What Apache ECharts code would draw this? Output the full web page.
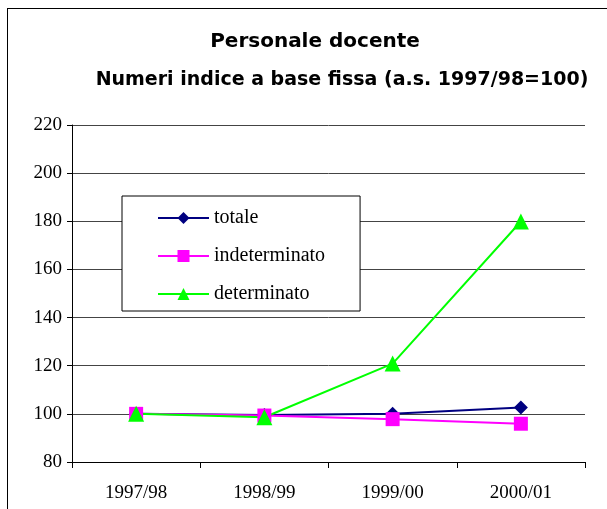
<!DOCTYPE html>
<html>
<head>
<meta charset="utf-8">
<script src="https://cdn.jsdelivr.net/npm/echarts@6/dist/echarts.min.js"></script>
<style>
  html, body { margin: 0; padding: 0; background: #fff; }
  #frame { position: absolute; left: 7px; top: 8px; width: 620px; height: 530px; border: 1px solid #000; box-sizing: border-box; }
  #chart { position: absolute; left: 0; top: 0; width: 607px; height: 509px; }
</style>
</head>
<body>
<div id="frame"></div>
<div id="chart"></div>
<script>
// anni scolastici
var categories = ['1997/98', '1998/99', '1999/00', '2000/01'];
// numeri indice (1997/98 = 100)
var totale = [100, 99.5, 100, 102.6];
var indeterminato = [100, 99.3, 97.8, 95.9];
var determinato = [100, 98.6, 120.9, 179.9];

var chart = echarts.init(document.getElementById('chart'));
var option = {
  animation: false,
  title: [
    {
      text: 'Personale docente',
      left: 310, top: 27, textAlign: 'center',
      textStyle: { fontFamily: 'DejaVu Sans', fontWeight: 'bold', fontSize: 20, color: '#000' }
    },
    {
      text: 'Numeri indice a base fissa (a.s. 1997/98=100)',
      left: 337, top: 66, textAlign: 'center',
      textStyle: { fontFamily: 'DejaVu Sans', fontWeight: 'bold', fontSize: 19, color: '#000' }
    }
  ],
  legend: {
    orient: 'vertical',
    left: 122, top: 196,
    padding: [12, 35, 7, 35],
    itemWidth: 51, itemHeight: 15, itemGap: 18,
    backgroundColor: '#fff',
    borderColor: '#000', borderWidth: 1,
    textStyle: { fontFamily: 'Liberation Serif', fontSize: 20, lineHeight: 20, color: '#000' },
    data: ['totale', 'indeterminato', 'determinato']
  },
  grid: { left: 72, right: 22, top: 125, bottom: 47 },
  xAxis: {
    type: 'category',
    data: categories,
    boundaryGap: true,
    axisLine: { lineStyle: { color: '#000', width: 1 } },
    axisTick: { show: true, length: 6, inside: false, lineStyle: { color: '#000' } },
    axisLabel: { margin: 22, fontFamily: 'Liberation Serif', fontSize: 19, color: '#000' }
  },
  yAxis: {
    type: 'value',
    min: 80, max: 220, interval: 20,
    axisLine: { show: true, lineStyle: { color: '#000' } },
    axisTick: { show: true, length: 5, lineStyle: { color: '#000' } },
    axisLabel: { margin: 10, fontFamily: 'Liberation Serif', fontSize: 19, color: '#000' },
    splitLine: { lineStyle: { color: '#444', width: 1 } }
  },
  series: [
    {
      name: 'totale', type: 'line', data: totale,
      symbol: 'diamond', symbolSize: 14,
      itemStyle: { color: '#000080' },
      lineStyle: { color: '#000080', width: 2 }
    },
    {
      name: 'indeterminato', type: 'line', data: indeterminato,
      symbol: 'rect', symbolSize: 14,
      itemStyle: { color: '#ff00ff' },
      lineStyle: { color: '#ff00ff', width: 2 }
    },
    {
      name: 'determinato', type: 'line', data: determinato,
      symbol: 'triangle', symbolSize: 16,
      itemStyle: { color: '#00ff00' },
      lineStyle: { color: '#00ff00', width: 2 }
    }
  ]
};
chart.setOption(option);
</script>
</body>
</html>
